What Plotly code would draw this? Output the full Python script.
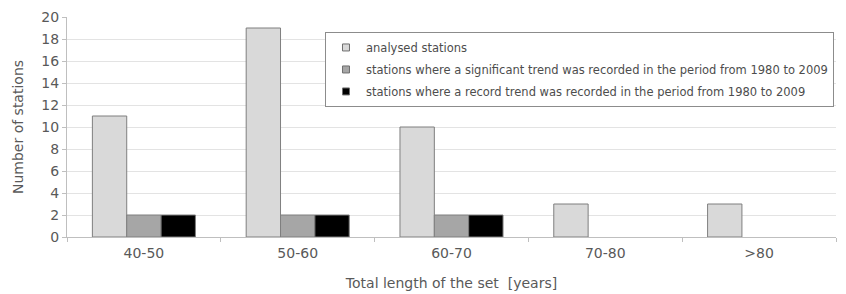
import plotly.graph_objects as go

categories = ["40-50", "50-60", "60-70", "70-80", ">80"]
analysed = [11, 19, 10, 3, 3]
significant = [2, 2, 2, None, None]
record = [2, 2, 2, None, None]

names = [
    "analysed stations",
    "stations where a significant trend was recorded in the period from 1980 to 2009",
    "stations where a record trend was recorded in the period from 1980 to 2009",
]
colors = ["#d9d9d9", "#a6a6a6", "#000000"]

fig = go.Figure()
for i, (name, vals, col) in enumerate(zip(names, [analysed, significant, record], colors)):
    fig.add_trace(go.Bar(
        x=categories, y=vals, name=name, showlegend=False, legendgroup=f"g{i}",
        marker=dict(color=col, line=dict(color="#7f7f7f", width=1)),
    ))
for i, (name, col) in enumerate(zip(names, colors)):
    fig.add_trace(go.Scatter(
        x=[None], y=[None], mode="markers", name=name, legendgroup=f"g{i}",
        marker=dict(symbol="square", size=7, color=col, line=dict(color="#6f6f6f", width=1)),
    ))

fig.update_layout(
    width=846, height=294,
    margin=dict(l=59, r=18, t=9, b=65),
    plot_bgcolor="white", paper_bgcolor="white",
    barmode="group", bargap=0.33, bargroupgap=0,
    font=dict(family="DejaVu Sans", color="#595959", size=14),
    legend=dict(
        x=0.3355, y=0.932, xanchor="left", yanchor="top",
        bordercolor="#8c8c8c", borderwidth=1, bgcolor="white",
        font=dict(size=11.5, color="#4d4d4d"),
        tracegroupgap=3, itemwidth=30,
    ),
    xaxis=dict(
        title=dict(text="Total length of the set  [years]", font=dict(size=14), standoff=18),
        showline=True, linecolor="#bfbfbf", linewidth=1,
        ticks="outside", tickson="boundaries", ticklen=4, tickcolor="#bfbfbf",
        showgrid=False, tickfont=dict(size=14), automargin=False,
        ticklabelstandoff=3,
    ),
    yaxis=dict(
        title=dict(text="Number of stations", font=dict(size=14), standoff=14),
        range=[0, 20], dtick=2,
        showline=True, linecolor="#bfbfbf", linewidth=1,
        ticks="outside", ticklen=4, tickcolor="#bfbfbf",
        showgrid=True, gridcolor="#e3e3e3", gridwidth=1,
        zeroline=False, tickfont=dict(size=14), automargin=False,
    ),
)

fig.write_html("out.html")
